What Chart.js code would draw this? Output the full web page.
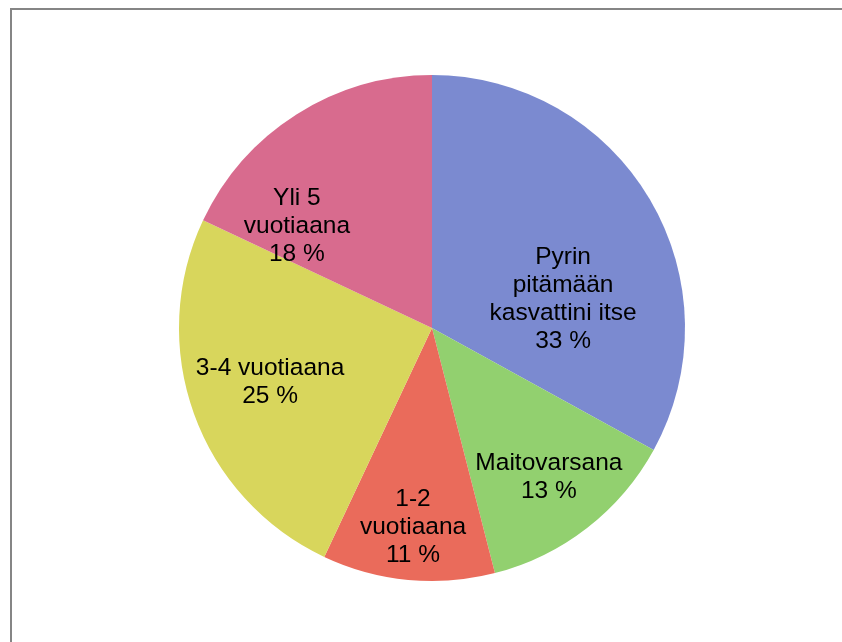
<!DOCTYPE html>
<html>
<head>
<meta charset="utf-8">
<script src="https://cdn.jsdelivr.net/npm/chart.js@4"></script>
<style>
  html, body { margin: 0; padding: 0; background: #fff; }
  canvas { display: block; }
</style>
</head>
<body>
<canvas id="myChart" width="842" height="642"></canvas>
<script>
const categories = ['Pyrin pitämään kasvattini itse', 'Maitovarsana', '1-2 vuotiaana', '3-4 vuotiaana', 'Yli 5 vuotiaana'];
const shares = [33, 13, 11, 25, 18];
const sliceColors = ['#7b8ad0', '#92d06f', '#ea6b5b', '#d8d65c', '#d86b8e'];

// label placement as fractions of the radius, plus wrap width (style only)
const labelSpots = [
  { dx: 0.518, dy: -0.113, wrap: 152 },
  { dx: 0.462, dy: 0.589, wrap: 200 },
  { dx: -0.075, dy: 0.787, wrap: 112 },
  { dx: -0.640, dy: 0.214, wrap: 200 },
  { dx: -0.534, dy: -0.403, wrap: 112 }
];

const frame = {
  id: 'frame',
  beforeDraw(chart) {
    const ctx = chart.ctx;
    ctx.save();
    ctx.strokeStyle = '#858585';
    ctx.lineWidth = 2;
    ctx.strokeRect(11, 9, 900, 700);
    ctx.restore();
  }
};

function wrapText(ctx, text, maxW) {
  const words = text.split(' ');
  const lines = [];
  let cur = '';
  words.forEach(w => {
    const test = cur ? cur + ' ' + w : w;
    if (cur && ctx.measureText(test).width > maxW) {
      lines.push(cur);
      cur = w;
    } else {
      cur = test;
    }
  });
  if (cur) lines.push(cur);
  return lines;
}

const sliceLabels = {
  id: 'sliceLabels',
  afterDatasetsDraw(chart) {
    const ctx = chart.ctx;
    const meta = chart.getDatasetMeta(0);
    ctx.save();
    ctx.font = '24.5px "Liberation Sans", Arial, sans-serif';
    ctx.fillStyle = '#000';
    ctx.textAlign = 'center';
    ctx.textBaseline = 'middle';
    meta.data.forEach((arc, i) => {
      const spot = labelSpots[i];
      const r = arc.outerRadius;
      const cx = arc.x + spot.dx * r;
      const cy = arc.y + spot.dy * r;
      const lines = wrapText(ctx, chart.data.labels[i], spot.wrap);
      lines.push(chart.data.datasets[0].data[i] + ' %');
      const lh = 28;
      const top = cy - (lines.length - 1) * lh / 2;
      lines.forEach((ln, k) => ctx.fillText(ln, cx, top + k * lh));
    });
    ctx.restore();
  }
};

const chart = document.getElementById('myChart');

new Chart(chart, {
  type: 'pie',
  data: {
    labels: categories,
    datasets: [{
      data: shares,
      backgroundColor: sliceColors,
      borderWidth: 0
    }]
  },
  options: {
    responsive: false,
    animation: false,
    layout: {
      padding: { left: 179, right: 157, top: 75, bottom: 61 }
    },
    plugins: {
      legend: { display: false },
      tooltip: { enabled: false }
    }
  },
  plugins: [frame, sliceLabels]
});
</script>
</body>
</html>
